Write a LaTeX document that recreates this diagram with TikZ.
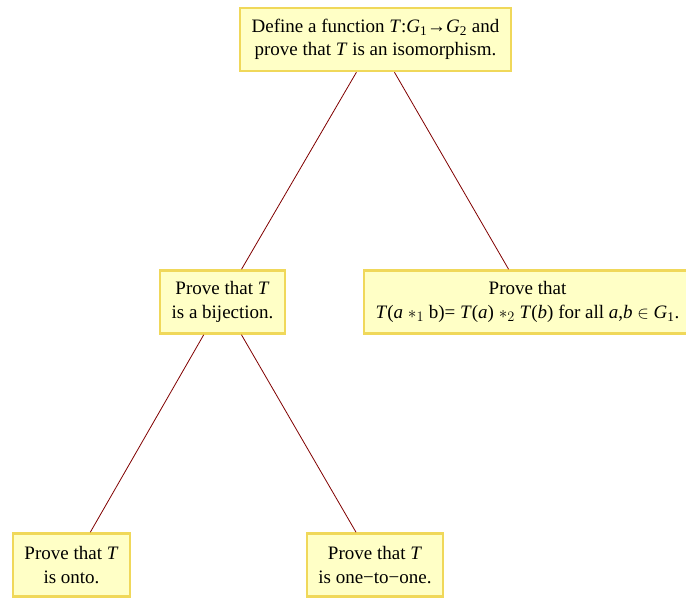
\documentclass[tikz,border=0pt]{standalone}
\usepackage{fontspec}
\setmainfont{Liberation Serif}
\definecolor{fondjaune}{RGB}{255,255,198}
\definecolor{bordjaune}{RGB}{240,216,90}
\definecolor{traitrouge}{RGB}{128,0,0}
\tikzset{
  but/.style={draw=bordjaune, fill=fondjaune, line width=2.5pt, align=center,
    inner xsep=11.5pt, inner ysep=6pt, minimum height=63pt,
    font=\fontsize{19}{23.5}\selectfont},
  lien/.style={traitrouge, line width=0.8pt}
}
\begin{document}
\begin{tikzpicture}[x=1pt,y=-1pt]
        \useasboundingbox (0,0) rectangle (686,598);

        % Les buts
        \node[but] (iso) at (375.5,39.5) {Define a function \textit{T}:\textit{G}\textsubscript{1}→\textit{G}\textsubscript{2} and\\prove that \textit{T} is an isomorphism.};
        \node[but] (bij) at (222.5,302) {Prove that \textit{T}\\is a bijection.};
        \node[but] (hom) at (527.5,302) {Prove that\\\textit{T}(\textit{a} $*_1$ b)= \textit{T}(\textit{a}) $*_2$ \textit{T}(\textit{b}) for all \textit{a},\textit{b} $\in$ \textit{G}\textsubscript{1}.};
        \node[but] (sur) at (71.5,565) {Prove that \textit{T}\\is onto.};
        \node[but] (inj) at (375,565) {Prove that \textit{T}\\is one−to−one.};

        % Les liens
        \draw[lien] (iso) -- (bij);
        \draw[lien] (iso) -- (hom);
        \draw[lien] (bij) -- (sur);
        \draw[lien] (bij) -- (inj);
    \end{tikzpicture}
\end{document}
